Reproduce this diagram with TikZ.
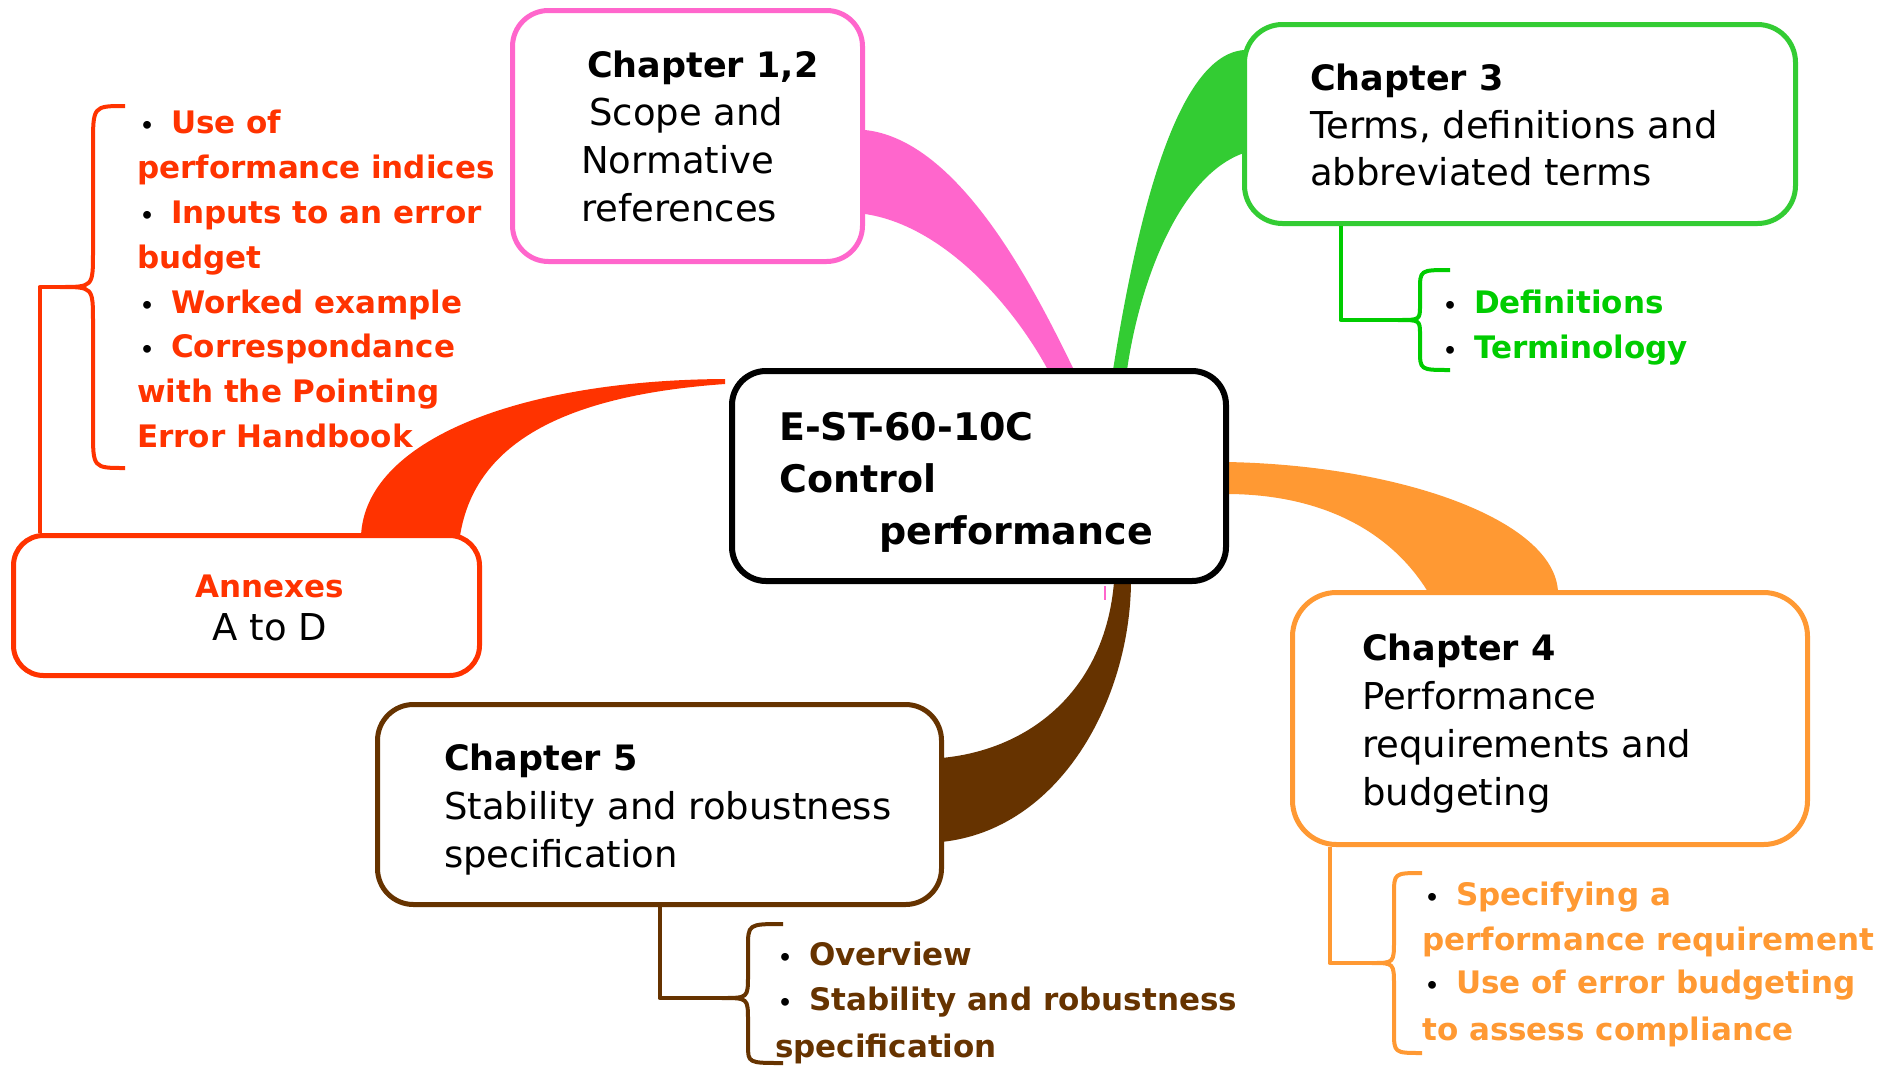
\documentclass[tikz,border=0pt]{standalone}
\usepackage{fontspec}
\setmainfont{DejaVu Sans}
\definecolor{pinkc}{HTML}{FF66CC}
\definecolor{greenc}{HTML}{33CC33}
\definecolor{greent}{HTML}{00CC00}
\definecolor{redc}{HTML}{FF3300}
\definecolor{orangec}{HTML}{FF9933}
\definecolor{brownc}{HTML}{663300}
\tikzset{
  box/.style={draw, line width=5pt, fill=white, rounded corners=36pt, inner sep=0pt},
  reg/.style={anchor=base west, inner sep=0pt, font=\fontsize{37}{44}\selectfont},
  head/.style={anchor=base west, inner sep=0pt, font=\fontsize{35}{44}\selectfont\bfseries},
  ctr/.style={anchor=base west, inner sep=0pt, font=\fontsize{38}{46}\selectfont\bfseries},
  bul/.style={anchor=base west, inner sep=0pt, font=\fontsize{31}{40}\selectfont\bfseries},
  bracel/.style={line width=4pt, line join=round}
}
\newcommand{\blt}{{\color{black}\hspace{3pt}\fontsize{22}{22}\selectfont •\hspace{6pt}}}
\begin{document}
\begin{tikzpicture}[x=1pt,y=-1pt]
\useasboundingbox (0,0) rectangle (1889,1066);
\fill[white] (0,0) rectangle (1889,1066);

% ribbons
\fill[pinkc] (865,130) .. controls (960,140) and (1035,290) .. (1074,370)
  -- (1048,370) .. controls (1010,300) and (940,225) .. (865,214) -- cycle;
\fill[greenc] (1113,370) .. controls (1140,200) and (1180,55) .. (1244,50)
  -- (1244,153) .. controls (1180,175) and (1140,280) .. (1127,370) -- cycle;
\fill[redc] (725,379) .. controls (520,380) and (365,440) .. (361,536)
  -- (460,536) .. controls (475,440) and (570,395) .. (725,384) -- cycle;
\fill[orangec] (1226,462) .. controls (1400,465) and (1555,520) .. (1558,592)
  -- (1428,592) .. controls (1390,530) and (1320,494) .. (1226,494) -- cycle;
\fill[brownc] (1114,582) .. controls (1105,690) and (1030,750) .. (941,758)
  -- (941,842) .. controls (1060,830) and (1130,700) .. (1131,582) -- cycle;
\draw[pinkc, line width=1.5pt] (1105,586) -- (1105,600);

% boxes
\node[box, draw=pinkc, minimum width=350pt, minimum height=251pt] (ch12) at (687.5,136) {};
\node[box, draw=greenc, minimum width=551pt, minimum height=199pt, rounded corners=38pt] (ch3) at (1520,124) {};
\node[box, draw=black, line width=6pt, minimum width=494pt, minimum height=210pt, rounded corners=34pt] (main) at (979,476) {};
\node[box, draw=orangec, minimum width=515pt, minimum height=252pt, rounded corners=44pt] (ch4) at (1550,718.5) {};
\node[box, draw=brownc, minimum width=564pt, minimum height=200pt, rounded corners=36pt] (ch5) at (659.5,804.5) {};
\node[box, draw=redc, minimum width=466pt, minimum height=140pt, rounded corners=30pt] (anx) at (246.5,605.5) {};

% box texts
\node[head] (p1) at (587,77) {Chapter 1,2};
\node[reg] (p2) at (589,125) {Scope and};
\node[reg] (p3) at (581,173) {Normative};
\node[reg] (p4) at (581,221) {references};

\node[head] (g1) at (1310,90) {Chapter 3};
\node[reg] (g2) at (1310,138) {Terms, definitions and};
\node[reg] (g3) at (1310,185) {abbreviated terms};

\node[ctr] (c1) at (779,440) {E-ST-60-10C};
\node[ctr] (c2) at (779,492) {Control};
\node[ctr] (c3) at (879,544) {performance};

\node[head] (o1) at (1362,660) {Chapter 4};
\node[reg] (o2) at (1362,709) {Performance};
\node[reg] (o3) at (1362,757) {requirements and};
\node[reg] (o4) at (1362,805) {budgeting};

\node[head] (b1) at (444,770) {Chapter 5};
\node[reg] (b2) at (444,819) {Stability and robustness};
\node[reg] (b3) at (444,867) {specification};

\node[bul, anchor=base, text=redc] (a1) at (270,597) {Annexes};
\node[reg, anchor=base] (a2) at (270,640) {A to D};

% red list
\begin{scope}[every node/.style={bul, text=redc}]
\node (r1) at (137,133) {\blt{} Use of};
\node (r2) at (137,178) {performance indices};
\node (r3) at (137,223) {\blt{} Inputs to an error};
\node (r4) at (137,268) {budget};
\node (r5) at (137,313) {\blt{} Worked example};
\node (r6) at (137,357) {\blt{} Correspondance};
\node (r7) at (137,402) {with the Pointing};
\node (r8) at (137,447) {Error Handbook};
\end{scope}
\begin{scope}[every node/.style={bul, text=greent}]
\node (gr1) at (1440,313) {\blt{} Definitions};
\node (gr2) at (1440,358) {\blt{} Terminology};
\end{scope}
\begin{scope}[every node/.style={bul, text=orangec}]
\node (or1) at (1422,905) {\blt{} Specifying a};
\node (or2) at (1422,950) {performance requirement};
\node (or3) at (1422,993) {\blt{} Use of error budgeting};
\node (or4) at (1422,1040) {to assess compliance};
\end{scope}
\begin{scope}[every node/.style={bul, text=brownc}]
\node (br1) at (775,965) {\blt{} Overview};
\node (br2) at (775,1010) {\blt{} Stability and robustness};
\node (br3) at (775,1057) {specification};
\end{scope}

% braces
\coordinate (rtip) at (60,287);
\draw[bracel, redc] (125,106) .. controls (93,106) .. (93,146) -- (93,252)
  .. controls (93,287) .. (rtip) .. controls (93,287) .. (93,322) -- (93,430)
  .. controls (93,468) .. (125,468);
\draw[bracel, redc] (rtip) -| ([xshift=28.5pt]anx.north west);

\coordinate (gtip) at (1398,320);
\draw[bracel, greent] (1450,270) .. controls (1420,270) .. (1420,290) -- (1420,305)
  .. controls (1420,320) .. (gtip) .. controls (1420,320) .. (1420,335) -- (1420,350)
  .. controls (1420,370) .. (1450,370);
\draw[bracel, greent] (gtip) -| ([xshift=98.5pt]ch3.south west);

\coordinate (otip) at (1372,963);
\draw[bracel, orangec] (1422,873) .. controls (1394,873) .. (1394,895) -- (1394,940)
  .. controls (1394,963) .. (otip) .. controls (1394,963) .. (1394,986) -- (1394,1031)
  .. controls (1394,1053) .. (1422,1053);
\draw[bracel, orangec] (otip) -| ([xshift=39.5pt]ch4.south west);

\coordinate (btip) at (722,998);
\draw[bracel, brownc] (783,924) .. controls (748,924) .. (748,948) -- (748,975)
  .. controls (748,998) .. (btip) .. controls (748,998) .. (748,1021) -- (748,1045)
  .. controls (748,1063) .. (783,1063);
\draw[bracel, brownc] (btip) -| ([xshift=284.5pt]ch5.south west);
\end{tikzpicture}
\end{document}
